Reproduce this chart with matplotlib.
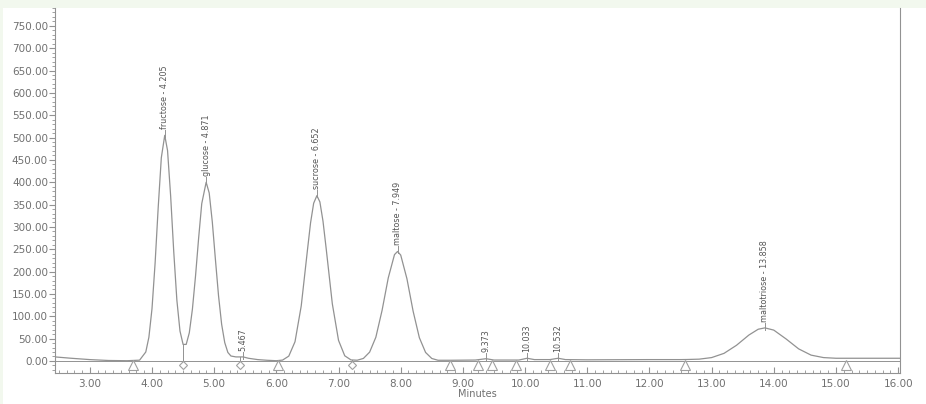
import matplotlib.pyplot as plt
from matplotlib.patches import Rectangle
from matplotlib.ticker import MultipleLocator, FormatStrFormatter

# detector trace (minutes, mV)
trace_time = [2.44, 2.7, 3.0, 3.3, 3.6, 3.8, 3.9, 3.95, 4.0, 4.05, 4.1, 4.15, 4.205,
              4.25, 4.3, 4.35, 4.4, 4.45, 4.5, 4.55, 4.6, 4.65, 4.7, 4.75, 4.8, 4.871,
              4.92, 4.97, 5.02, 5.07, 5.12, 5.17, 5.22, 5.27, 5.35, 5.467, 5.55, 5.7,
              5.85, 6.0, 6.1, 6.2, 6.3, 6.4, 6.5, 6.55, 6.6, 6.652, 6.7, 6.75, 6.8,
              6.9, 7.0, 7.1, 7.2, 7.3, 7.4, 7.5, 7.6, 7.7, 7.8, 7.9, 7.949, 8.0, 8.1,
              8.2, 8.3, 8.4, 8.5, 8.6, 8.8, 9.2, 9.373, 9.5, 9.9, 10.033, 10.15, 10.4,
              10.532, 10.65, 11.0, 12.0, 12.5, 12.6, 12.8, 13.0, 13.2, 13.4, 13.6,
              13.75, 13.858, 14.0, 14.2, 14.4, 14.6, 14.8, 15.0, 15.2, 16.03]
trace_signal = [9, 6, 3, 1, 0.5, 1.7, 20, 53, 117, 219, 344, 455, 505,
                471, 369, 244, 136, 67, 37, 37, 63, 116, 190, 275, 352, 400,
                376, 311, 227, 146, 82, 41, 19, 11, 9, 9, 6, 3,
                1.5, 0.5, 1.9, 10.8, 43, 123, 248, 309, 353, 370, 356, 313, 253,
                128, 46, 11.5, 2.3, 1.6, 5.6, 19.7, 53, 113, 186, 238, 245, 237, 184,
                111, 52, 19, 5.5, 1.5, 1.5, 2, 5, 2, 2, 6, 3, 3,
                6, 3, 2.5, 3, 3, 3.2, 4, 7.5, 17, 35, 58,
                71, 74, 69, 49, 27, 13, 7.5, 6, 6, 6]

peak_labels = ["fructose - 4.205", "glucose - 4.871", "5.467", "sucrose - 6.652",
               "maltose - 7.949", "9.373", "10.033", "10.532", "maltotriose - 13.858"]
peak_times = [4.205, 4.871, 5.467, 6.652, 7.949, 9.373, 10.033, 10.532, 13.858]
peak_heights = [505, 400, 9, 370, 245, 5, 6, 6, 74]

# integration marks under the baseline
start_end_times = [3.70, 6.03, 8.80, 9.25, 9.47, 9.85, 10.40, 10.72, 12.57, 15.16]
valley_times = [4.50, 5.42, 7.22]
valley_heights = [37, 9, 2]

grey = "#929292"
txt = "#707070"

fig = plt.figure(figsize=(9.26, 4.04), dpi=100, facecolor="#f2f8ee")
fig.patches.append(Rectangle((3 / 926, 0), 1, 1 - 8 / 404, transform=fig.transFigure,
                             facecolor="white", edgecolor="none", zorder=-1))
ax = fig.add_axes([55 / 926, 1 - 373 / 404, 845 / 926, 365 / 404])

ax.axhline(0, color=grey, lw=0.7)
ax.plot(trace_time, trace_signal, color=grey, lw=0.9)

for lab, t, h in zip(peak_labels, peak_times, peak_heights):
    ax.plot([t, t], [h - 4, h + 12], color=grey, lw=0.7)
    ax.text(t, h + 14, lab, rotation=90, ha="center", va="bottom",
            fontsize=5.8, color="#555555")

for t, h in zip(valley_times, valley_heights):
    ax.plot([t, t], [h, -6], color=grey, lw=0.7)
ax.plot(start_end_times, [-9] * len(start_end_times), ls="none", marker="^",
        ms=7, mfc="white", mec="#a0a0a0", mew=0.8)
ax.plot(valley_times, [-9] * len(valley_times), ls="none", marker="D",
        ms=4.5, mfc="white", mec="#a0a0a0", mew=0.8)

ax.set_xlim(2.44, 16.03)
ax.set_ylim(-27, 790)
ax.xaxis.set_major_locator(MultipleLocator(1))
ax.xaxis.set_minor_locator(MultipleLocator(0.125))
ax.yaxis.set_major_locator(MultipleLocator(50))
ax.yaxis.set_minor_locator(MultipleLocator(10))
ax.xaxis.set_major_formatter(FormatStrFormatter("%.2f"))
ax.yaxis.set_major_formatter(FormatStrFormatter("%.2f"))
ax.set_yticks([v * 50 for v in range(16)])

ax.tick_params(axis="x", which="major", direction="in", length=4, color=grey,
               labelsize=7.5, labelcolor=txt, pad=4)
ax.tick_params(axis="x", which="minor", direction="in", length=2, color=grey)
ax.tick_params(axis="y", which="major", direction="out", length=4, color=grey,
               labelsize=7.5, labelcolor=txt, pad=1)
ax.tick_params(axis="y", which="minor", direction="out", length=2, color=grey)

for s in ["left", "bottom", "right"]:
    ax.spines[s].set_color(grey)
    ax.spines[s].set_linewidth(0.8)
ax.spines["top"].set_visible(False)

ax.set_xlabel("Minutes", fontsize=7, color=txt, labelpad=0)

fig.savefig("out.png", dpi=100, facecolor=fig.get_facecolor())
